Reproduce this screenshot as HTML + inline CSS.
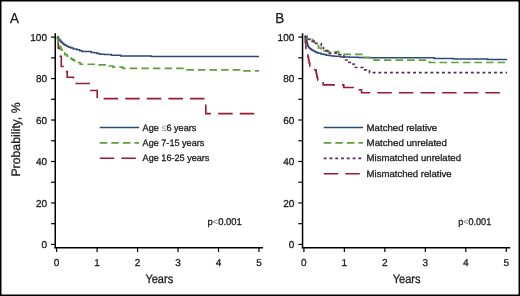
<!DOCTYPE html>
<html><head><meta charset="utf-8"><style>
html,body{margin:0;padding:0;background:#fff;}
#wrap{position:relative;width:520px;height:296px;overflow:hidden;background:#fff;will-change:transform;}
svg{position:absolute;left:0;top:0;}
text{font-family:"Liberation Sans",sans-serif;fill:#1c1c1c;stroke:#1c1c1c;stroke-width:0.3px;text-rendering:geometricPrecision;}
.tl{font-size:10px;}
.ax{font-size:12.3px;}
.pv{font-size:9.7px;}
.pl{font-size:14.5px;}
.yl{font-size:12.3px;}
.lg{font-size:9.4px;}
</style></head><body><div id="wrap">
<svg width="520" height="296" viewBox="0 0 520 296">
<rect x="0.75" y="0.75" width="518.5" height="294.5" fill="none" stroke="#000" stroke-width="1.5"/>
<line x1="55.25" y1="33.3" x2="55.25" y2="248.2" stroke="#000" stroke-width="1.5"/>
<line x1="54.50" y1="247.8" x2="263.00" y2="247.8" stroke="#000" stroke-width="1.5"/>
<line x1="51.05" y1="244.40" x2="55.25" y2="244.40" stroke="#000" stroke-width="1.2"/>
<text x="47.00" y="248.00" text-anchor="end" class="tl">0</text>
<line x1="51.05" y1="223.67" x2="55.25" y2="223.67" stroke="#000" stroke-width="1.2"/>
<line x1="51.05" y1="202.94" x2="55.25" y2="202.94" stroke="#000" stroke-width="1.2"/>
<text x="47.00" y="206.54" text-anchor="end" class="tl">20</text>
<line x1="51.05" y1="182.21" x2="55.25" y2="182.21" stroke="#000" stroke-width="1.2"/>
<line x1="51.05" y1="161.48" x2="55.25" y2="161.48" stroke="#000" stroke-width="1.2"/>
<text x="47.00" y="165.08" text-anchor="end" class="tl">40</text>
<line x1="51.05" y1="140.75" x2="55.25" y2="140.75" stroke="#000" stroke-width="1.2"/>
<line x1="51.05" y1="120.02" x2="55.25" y2="120.02" stroke="#000" stroke-width="1.2"/>
<text x="47.00" y="123.62" text-anchor="end" class="tl">60</text>
<line x1="51.05" y1="99.29" x2="55.25" y2="99.29" stroke="#000" stroke-width="1.2"/>
<line x1="51.05" y1="78.56" x2="55.25" y2="78.56" stroke="#000" stroke-width="1.2"/>
<text x="47.00" y="82.16" text-anchor="end" class="tl">80</text>
<line x1="51.05" y1="57.83" x2="55.25" y2="57.83" stroke="#000" stroke-width="1.2"/>
<line x1="51.05" y1="37.10" x2="55.25" y2="37.10" stroke="#000" stroke-width="1.2"/>
<text x="47.00" y="40.70" text-anchor="end" class="tl">100</text>
<line x1="56.60" y1="248" x2="56.60" y2="252" stroke="#000" stroke-width="1.2"/>
<text x="56.60" y="266.1" text-anchor="middle" class="tl">0</text>
<line x1="97.08" y1="248" x2="97.08" y2="252" stroke="#000" stroke-width="1.2"/>
<text x="97.08" y="266.1" text-anchor="middle" class="tl">1</text>
<line x1="137.56" y1="248" x2="137.56" y2="252" stroke="#000" stroke-width="1.2"/>
<text x="137.56" y="266.1" text-anchor="middle" class="tl">2</text>
<line x1="178.04" y1="248" x2="178.04" y2="252" stroke="#000" stroke-width="1.2"/>
<text x="178.04" y="266.1" text-anchor="middle" class="tl">3</text>
<line x1="218.52" y1="248" x2="218.52" y2="252" stroke="#000" stroke-width="1.2"/>
<text x="218.52" y="266.1" text-anchor="middle" class="tl">4</text>
<line x1="259.00" y1="248" x2="259.00" y2="252" stroke="#000" stroke-width="1.2"/>
<text x="259.00" y="266.1" text-anchor="middle" class="tl">5</text>
<text x="145.40" y="282.8" textLength="27.8" lengthAdjust="spacingAndGlyphs" class="ax">Years</text>
<line x1="302.55" y1="33.3" x2="302.55" y2="248.2" stroke="#000" stroke-width="1.5"/>
<line x1="301.80" y1="247.8" x2="510.30" y2="247.8" stroke="#000" stroke-width="1.5"/>
<line x1="298.35" y1="244.40" x2="302.55" y2="244.40" stroke="#000" stroke-width="1.2"/>
<text x="294.30" y="248.00" text-anchor="end" class="tl">0</text>
<line x1="298.35" y1="223.67" x2="302.55" y2="223.67" stroke="#000" stroke-width="1.2"/>
<line x1="298.35" y1="202.94" x2="302.55" y2="202.94" stroke="#000" stroke-width="1.2"/>
<text x="294.30" y="206.54" text-anchor="end" class="tl">20</text>
<line x1="298.35" y1="182.21" x2="302.55" y2="182.21" stroke="#000" stroke-width="1.2"/>
<line x1="298.35" y1="161.48" x2="302.55" y2="161.48" stroke="#000" stroke-width="1.2"/>
<text x="294.30" y="165.08" text-anchor="end" class="tl">40</text>
<line x1="298.35" y1="140.75" x2="302.55" y2="140.75" stroke="#000" stroke-width="1.2"/>
<line x1="298.35" y1="120.02" x2="302.55" y2="120.02" stroke="#000" stroke-width="1.2"/>
<text x="294.30" y="123.62" text-anchor="end" class="tl">60</text>
<line x1="298.35" y1="99.29" x2="302.55" y2="99.29" stroke="#000" stroke-width="1.2"/>
<line x1="298.35" y1="78.56" x2="302.55" y2="78.56" stroke="#000" stroke-width="1.2"/>
<text x="294.30" y="82.16" text-anchor="end" class="tl">80</text>
<line x1="298.35" y1="57.83" x2="302.55" y2="57.83" stroke="#000" stroke-width="1.2"/>
<line x1="298.35" y1="37.10" x2="302.55" y2="37.10" stroke="#000" stroke-width="1.2"/>
<text x="294.30" y="40.70" text-anchor="end" class="tl">100</text>
<line x1="303.90" y1="248" x2="303.90" y2="252" stroke="#000" stroke-width="1.2"/>
<text x="303.90" y="266.1" text-anchor="middle" class="tl">0</text>
<line x1="344.38" y1="248" x2="344.38" y2="252" stroke="#000" stroke-width="1.2"/>
<text x="344.38" y="266.1" text-anchor="middle" class="tl">1</text>
<line x1="384.86" y1="248" x2="384.86" y2="252" stroke="#000" stroke-width="1.2"/>
<text x="384.86" y="266.1" text-anchor="middle" class="tl">2</text>
<line x1="425.34" y1="248" x2="425.34" y2="252" stroke="#000" stroke-width="1.2"/>
<text x="425.34" y="266.1" text-anchor="middle" class="tl">3</text>
<line x1="465.82" y1="248" x2="465.82" y2="252" stroke="#000" stroke-width="1.2"/>
<text x="465.82" y="266.1" text-anchor="middle" class="tl">4</text>
<line x1="506.30" y1="248" x2="506.30" y2="252" stroke="#000" stroke-width="1.2"/>
<text x="506.30" y="266.1" text-anchor="middle" class="tl">5</text>
<text x="392.70" y="282.8" textLength="27.8" lengthAdjust="spacingAndGlyphs" class="ax">Years</text>
<text x="9.9" y="23.1" textLength="8.9" lengthAdjust="spacingAndGlyphs" class="pl">A</text>
<text x="275.2" y="23.1" textLength="8.9" lengthAdjust="spacingAndGlyphs" class="pl">B</text>
<text transform="translate(20.2 176.6) rotate(-90)" textLength="74.2" lengthAdjust="spacingAndGlyphs" class="yl">Probability, %</text>
<path d="M57.00,36.70 L58.20,36.70 L58.20,48.00 L59.20,48.00 L59.20,56.30 L61.30,56.30 L61.30,66.50 L64.00,66.50 L64.00,71.60 L67.20,71.60 L67.20,77.20 L73.40,77.20 L73.40,83.50 L90.00,83.50 L90.00,90.50 L97.20,90.50 L97.20,98.60 L205.80,98.60 L205.80,113.60 L259.00,113.60" fill="none" stroke="#9a1b30" stroke-width="1.6" stroke-dasharray="14.5 7.1" stroke-dashoffset="-0.5"/>
<path d="M57.00,36.70 L57.60,36.70 L57.60,38.05 L58.80,38.05 L58.80,39.40 L59.40,39.40 L59.88,39.40 L59.88,40.55 L60.82,40.55 L60.82,41.70 L61.30,41.70 L61.77,41.70 L61.77,42.65 L62.73,42.65 L62.73,43.60 L63.20,43.60 L63.80,43.60 L63.80,44.45 L65.00,44.45 L65.00,45.30 L65.60,45.30 L66.55,45.30 L66.55,46.20 L67.50,46.20 L68.65,46.20 L68.65,47.20 L69.80,47.20 L71.00,47.20 L71.00,48.10 L72.20,48.10 L73.35,48.10 L73.35,49.00 L74.50,49.00 L76.85,49.00 L76.85,49.70 L79.20,49.70 L79.80,49.70 L79.80,50.80 L80.40,50.80 L82.10,50.80 L82.10,51.60 L83.80,51.60 L90.00,51.60 L91.15,51.60 L91.15,52.40 L92.30,52.40 L94.25,52.40 L94.25,52.80 L96.20,52.80 L96.95,52.80 L96.95,53.50 L97.70,53.50 L99.60,53.50 L99.60,54.30 L101.50,54.30 L104.75,54.30 L104.75,54.40 L108.00,54.40 L111.45,54.40 L111.45,55.20 L114.90,55.20 L120.70,55.20 L120.70,56.00 L126.50,56.00 L151.30,56.00 L151.30,56.60 L259.00,56.60" fill="none" stroke="#2b4a78" stroke-width="1.5"/>
<path d="M57.00,36.70 L57.20,36.70 L57.20,37.98 L57.62,37.98 L57.62,39.26 L58.02,39.26 L58.02,40.54 L58.43,40.54 L58.43,41.82 L58.84,41.82 L58.84,43.10 L59.05,43.10 L59.21,43.10 L59.21,44.45 L59.54,44.45 L59.54,45.80 L59.70,45.80 L59.97,45.80 L59.97,46.88 L60.51,46.88 L60.51,47.96 L61.05,47.96 L61.05,49.04 L61.59,49.04 L61.59,50.12 L62.13,50.12 L62.13,51.20 L62.40,51.20 L62.73,51.20 L62.73,52.15 L63.38,52.15 L63.38,53.10 L63.70,53.10 L64.88,53.10 L64.88,54.60 L67.23,54.60 L67.23,56.10 L68.40,56.10 L68.93,56.10 L68.93,57.10 L69.97,57.10 L69.97,58.10 L70.50,58.10 L71.33,58.10 L71.33,59.13 L73.00,59.13 L73.00,60.17 L74.67,60.17 L74.67,61.20 L75.50,61.20 L76.35,61.20 L76.35,62.50 L77.20,62.50 L80.25,62.50 L80.25,64.25 L83.30,64.25 L96.50,64.25 L96.50,64.90 L108.00,64.90 L109.00,64.90 L109.00,66.00 L110.00,66.00 L113.00,66.00 L113.00,67.10 L116.00,67.10 L121.00,67.10 L123.00,67.10 L123.00,68.40 L125.00,68.40 L182.80,68.40 L182.80,69.80 L239.60,69.80 L239.60,70.90 L259.00,70.90" fill="none" stroke="#5f9f3d" stroke-width="1.7" stroke-dasharray="7.5 4.1" stroke-dashoffset="0"/>
<path d="M304.60,36.60 L305.30,36.60 L305.30,42.50 L305.90,42.50 L305.90,48.40 L306.60,48.40 L306.60,51.00 L307.40,51.00 L307.40,53.80 L307.90,53.80 L307.90,57.00 L308.50,57.00 L308.50,60.00 L309.10,60.00 L309.10,63.00 L309.80,63.00 L309.80,66.00 L311.50,66.00 L311.50,68.00 L313.60,68.00 L313.60,69.80 L315.70,69.80 L315.70,70.60 L316.20,70.60 L316.20,73.50 L316.80,73.50 L316.80,76.50 L317.40,76.50 L317.40,78.50 L317.80,78.50 L317.80,80.30 L321.00,80.30 L321.00,81.80 L323.20,81.80 L323.20,84.90 L343.80,84.90 L343.80,87.50 L359.10,87.50 L359.10,89.80 L361.50,89.80 L361.50,92.80 L505.50,92.80" fill="none" stroke="#9a1b30" stroke-width="1.6" stroke-dasharray="14.5 7.1" stroke-dashoffset="0.7"/>
<path d="M304.60,36.60 L305.20,36.60 L305.20,37.20 L305.80,37.20 L305.93,37.20 L305.93,37.97 L306.20,37.97 L306.20,38.73 L306.47,38.73 L306.47,39.50 L306.60,39.50 L306.66,39.50 L306.66,40.25 L306.79,40.25 L306.79,41.00 L306.91,41.00 L306.91,41.75 L307.04,41.75 L307.04,42.50 L307.10,42.50 L307.23,42.50 L307.23,43.50 L307.48,43.50 L307.48,44.50 L307.60,44.50 L307.78,44.50 L307.78,45.40 L308.15,45.40 L308.15,46.30 L308.52,46.30 L308.52,47.20 L308.70,47.20 L309.15,47.20 L309.15,47.93 L310.05,47.93 L310.05,48.67 L310.95,48.67 L310.95,49.40 L311.40,49.40 L312.07,49.40 L312.07,50.20 L313.43,50.20 L313.43,51.00 L314.10,51.00 L314.78,51.00 L314.78,51.70 L316.12,51.70 L316.12,52.40 L316.80,52.40 L318.15,52.40 L318.15,53.20 L319.50,53.20 L320.85,53.20 L320.85,54.00 L322.20,54.00 L323.55,54.00 L323.55,54.60 L324.90,54.60 L326.25,54.60 L326.25,55.30 L327.60,55.30 L328.80,55.30 L328.80,55.60 L330.00,55.60 L331.50,55.60 L331.50,55.90 L333.00,55.90 L334.50,55.90 L334.50,56.20 L336.00,56.20 L340.50,56.20 L340.50,56.90 L345.00,56.90 L349.50,56.90 L349.50,57.30 L354.00,57.30 L358.50,57.30 L358.50,57.60 L363.00,57.60 L369.50,57.60 L369.50,57.70 L376.00,57.70 L434.20,57.70 L434.20,58.50 L453.50,58.50 L453.50,59.05 L487.60,59.05 L487.60,59.50 L507.20,59.50" fill="none" stroke="#2b4a78" stroke-width="1.5"/>
<path d="M304.60,36.60 L307.00,36.60 L307.00,38.60 L310.50,38.60 L310.50,39.40 L312.50,39.40 L312.50,40.50 L314.00,40.50 L314.00,42.50 L316.00,42.50 L316.00,45.50 L318.50,45.50 L318.50,48.00 L321.00,48.00 L321.00,49.80 L324.00,49.80 L324.00,50.80 L327.50,50.80 L327.50,51.60 L338.70,51.60 L338.70,54.30 L364.30,54.30 L364.30,57.60 L374.30,57.60 L374.30,60.20 L429.50,60.20 L429.50,62.50 L507.00,62.50" fill="none" stroke="#5f9f3d" stroke-width="1.7" stroke-dasharray="7.5 4.1" stroke-dashoffset="1.5"/>
<path d="M304.60,36.60 L306.90,36.60 L306.90,39.30 L310.50,39.30 L310.50,41.40 L314.00,41.40 L314.00,43.50 L321.30,43.50 L321.30,45.60 L323.40,45.60 L323.40,50.60 L327.90,50.60 L327.90,53.20 L339.50,53.20 L339.50,54.50 L343.00,54.50 L343.00,56.00 L344.00,56.00 L344.00,60.00 L347.00,60.00 L347.00,62.40 L352.80,62.40 L352.80,64.00 L354.00,64.00 L354.00,67.50 L362.80,67.50 L362.80,69.80 L369.50,69.80 L369.50,72.60 L507.00,72.60" fill="none" stroke="#5a2b5c" stroke-width="1.7" stroke-dasharray="2.89 2.89" stroke-dashoffset="0.0"/>
<line x1="99.7" y1="127.50" x2="139" y2="127.50" stroke="#2b4a78" stroke-width="1.5"/>
<text x="142.60" y="130.50" textLength="53.8" lengthAdjust="spacingAndGlyphs" class="lg">Age <tspan style="fill:#8a8a8a;stroke:none">≤</tspan>6 years</text>
<line x1="99.7" y1="142.90" x2="139" y2="142.90" stroke="#5f9f3d" stroke-width="1.7" stroke-dasharray="7.5 4.1"/>
<text x="142.60" y="145.90" textLength="61.7" lengthAdjust="spacingAndGlyphs" class="lg">Age 7-15 years</text>
<line x1="99.7" y1="158.30" x2="139" y2="158.30" stroke="#9a1b30" stroke-width="1.6" stroke-dasharray="14.5 7.1"/>
<text x="142.60" y="161.30" textLength="66.8" lengthAdjust="spacingAndGlyphs" class="lg">Age 16-25 years</text>
<line x1="323.7" y1="127.50" x2="363.0" y2="127.50" stroke="#2b4a78" stroke-width="1.5"/>
<text x="366.60" y="130.50" textLength="70.6" lengthAdjust="spacingAndGlyphs" class="lg">Matched relative</text>
<line x1="323.7" y1="142.90" x2="363.0" y2="142.90" stroke="#5f9f3d" stroke-width="1.7" stroke-dasharray="7.5 4.1"/>
<text x="366.60" y="145.90" textLength="80.3" lengthAdjust="spacingAndGlyphs" class="lg">Matched unrelated</text>
<line x1="323.7" y1="158.30" x2="363.0" y2="158.30" stroke="#5a2b5c" stroke-width="1.7" stroke-dasharray="2.89 2.89"/>
<text x="366.60" y="161.30" textLength="94.4" lengthAdjust="spacingAndGlyphs" class="lg">Mismatched unrelated</text>
<line x1="323.7" y1="173.70" x2="363.0" y2="173.70" stroke="#9a1b30" stroke-width="1.6" stroke-dasharray="14.5 7.1"/>
<text x="366.60" y="176.70" textLength="85.1" lengthAdjust="spacingAndGlyphs" class="lg">Mismatched relative</text>
<text x="207.4" y="224.9" textLength="34.4" lengthAdjust="spacingAndGlyphs" class="pv">p<tspan style="fill:#777;stroke:none">&lt;</tspan>0.001</text>
<text x="458.2" y="224.9" textLength="33.0" lengthAdjust="spacingAndGlyphs" class="pv">p<tspan style="fill:#777;stroke:none">&lt;</tspan>0.001</text>
</svg></div></body></html>
